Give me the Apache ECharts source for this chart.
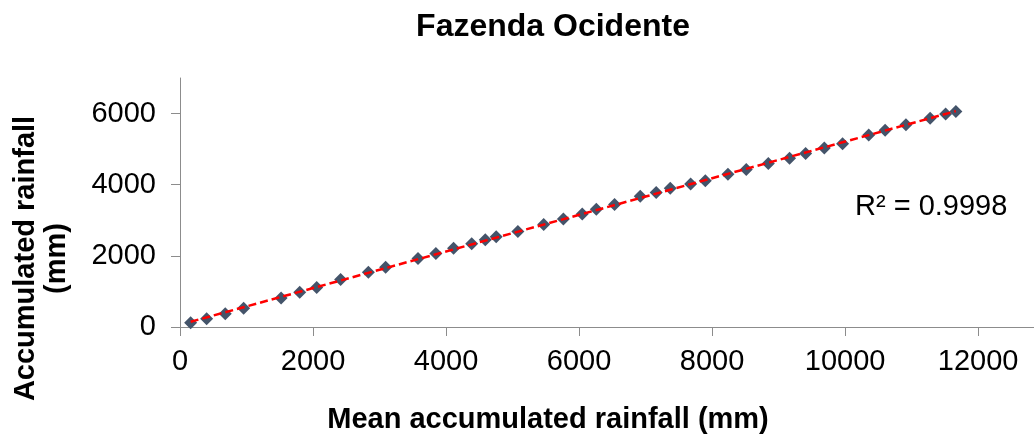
<!DOCTYPE html>
<html>
<head>
<meta charset="utf-8">
<script src="https://cdn.jsdelivr.net/npm/echarts@6/dist/echarts.min.js"></script>
<style>
html,body{margin:0;padding:0;background:#fff;}
#chart{width:1034px;height:439px;}
</style>
</head>
<body>
<div id="chart"></div>
<script>
const TITLE = 'Fazenda Ocidente';
const X_NAME = 'Mean accumulated rainfall (mm)';
const Y_NAME = 'Accumulated rainfall\n(mm)';
const R2_LABEL = 'R² = 0.9998';
const meanRain = [160, 400, 680, 957, 1520, 1800, 2055, 2415, 2832, 3092, 3578, 3847, 4113, 4386, 4590, 4754, 5080, 5468, 5764, 6048, 6259, 6534, 6920, 7160, 7371, 7677, 7898, 8238, 8514, 8845, 9165, 9406, 9687, 9962, 10355, 10602, 10915, 11278, 11511, 11665];
const accRain = [120, 235, 375, 525, 816, 975, 1110, 1335, 1540, 1678, 1928, 2068, 2217, 2340, 2452, 2535, 2685, 2880, 3039, 3175, 3311, 3447, 3673, 3782, 3900, 4019, 4109, 4291, 4427, 4599, 4743, 4875, 5034, 5151, 5396, 5528, 5687, 5869, 5990, 6060];
const X_TICKS = [0, 2000, 4000, 6000, 8000, 10000, 12000];
const Y_TICKS = [0, 2000, 4000, 6000];
const X_MAX = 12840;
const Y_MAX = 7000;

// linear regression for trendline
const n = meanRain.length;
let sx = 0, sy = 0, sxx = 0, sxy = 0;
for (let i = 0; i < n; i++) { sx += meanRain[i]; sy += accRain[i]; sxx += meanRain[i] * meanRain[i]; sxy += meanRain[i] * accRain[i]; }
const slope = (n * sxy - sx * sy) / (n * sxx - sx * sx);
const intercept = (sy - slope * sx) / n;
const xMin = Math.min(...meanRain), xMax = Math.max(...meanRain);
const trend = [[xMin, intercept + slope * xMin], [xMax, intercept + slope * xMax]];
const points = meanRain.map((x, i) => [x, accRain[i]]);

const FONT = '"Liberation Sans", Arial, Helvetica, sans-serif';
const axisColor = '#8c8c8c';
const plain = v => String(v);
const chart = echarts.init(document.getElementById('chart'), null, {renderer: 'canvas'});
chart.setOption({
  animation: false,
  backgroundColor: '#ffffff',
  textStyle: {fontFamily: FONT},
  title: {
    text: TITLE,
    left: 548,
    top: 6,
    textAlign: 'center',
    textStyle: {fontFamily: FONT, fontSize: 32, fontWeight: 'bold', color: '#000', lineHeight: 32}
  },
  grid: {left: 180, top: 78, right: 0, bottom: 104, containLabel: false},
  xAxis: {
    type: 'value',
    min: 0, max: X_MAX, interval: 2000,
    name: X_NAME,
    nameLocation: 'middle',
    nameGap: 78,
    nameTextStyle: {fontFamily: FONT, fontSize: 29, fontWeight: 'bold', color: '#000', lineHeight: 29, padding: [0, 118, 0, 0]},
    axisLine: {show: true, lineStyle: {color: axisColor, width: 1}},
    axisTick: {show: true, length: 9, lineStyle: {color: axisColor}, customValues: X_TICKS},
    axisLabel: {fontFamily: FONT, fontSize: 29, color: '#000', margin: 20, lineHeight: 29, customValues: X_TICKS, formatter: plain, showMaxLabel: true},
    splitLine: {show: false}
  },
  yAxis: {
    type: 'value',
    min: 0, max: Y_MAX, interval: 2000,
    name: Y_NAME,
    nameLocation: 'middle',
    nameRotate: 90,
    nameGap: 108,
    nameTextStyle: {fontFamily: FONT, fontSize: 29, fontWeight: 'bold', color: '#000', lineHeight: 31, align: 'center', padding: [0, 112, 0, 0]},
    axisLine: {show: true, lineStyle: {color: axisColor, width: 1}},
    axisTick: {show: true, length: 9, lineStyle: {color: axisColor}, customValues: Y_TICKS},
    axisLabel: {fontFamily: FONT, fontSize: 29, color: '#000', margin: 24, customValues: Y_TICKS, formatter: plain},
    splitLine: {show: false}
  },
  graphic: [{
    type: 'text',
    x: 855, y: 207,
    style: {text: R2_LABEL, font: '29px ' + FONT, fill: '#000', align: 'left', verticalAlign: 'middle'}
  }],
  series: [{
    type: 'scatter',
    data: points,
    symbol: 'diamond',
    symbolSize: 13,
    itemStyle: {color: '#44546A', opacity: 1},
    z: 2
  }, {
    type: 'line',
    data: trend,
    showSymbol: false,
    symbol: 'none',
    lineStyle: {color: '#FF0000', width: 2.5, type: [8, 4]},
    z: 3
  }]
});
</script>
</body>
</html>
